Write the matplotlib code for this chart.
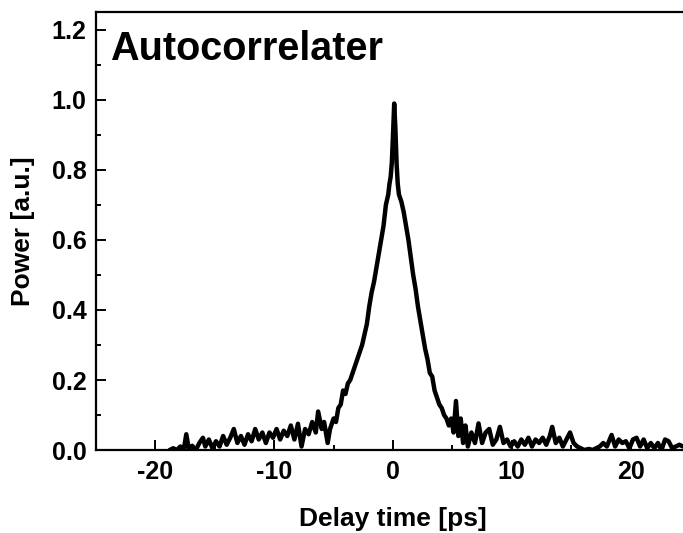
import matplotlib
matplotlib.use("Agg")
import matplotlib.pyplot as plt
from matplotlib.ticker import MultipleLocator

plt.rcParams['font.family'] = ['Liberation Sans', 'DejaVu Sans']
plt.rcParams['font.weight'] = 'bold'
plt.rcParams['axes.unicode_minus'] = False

# delay time [ps] and normalised power
delay = [-18.8, -18.5, -18.2, -17.9, -17.6, -17.4, -17.2, -16.9, -16.6, -16.3,
         -16.0, -15.8, -15.5, -15.2, -14.9, -14.6, -14.3, -14.0, -13.7, -13.4,
         -13.1, -12.8, -12.5, -12.2, -11.9, -11.6, -11.3, -11.0, -10.7, -10.4,
         -10.1, -9.8, -9.5, -9.2, -8.9, -8.6, -8.3, -8.0, -7.7, -7.4,
         -7.1, -6.8, -6.5, -6.3, -6.0, -5.8, -5.5, -5.3, -5.0, -4.8,
         -4.6, -4.4, -4.2, -4.0, -3.8, -3.6, -3.4, -3.2, -3.0, -2.8,
         -2.6, -2.4, -2.2, -2.0, -1.8, -1.6, -1.4, -1.2, -1.0, -0.8,
         -0.6, -0.4, -0.3, -0.2, -0.1, 0.0, 0.1, 0.2, 0.3, 0.4,
         0.5, 0.7, 0.9, 1.1, 1.3, 1.5, 1.7, 1.9, 2.1, 2.3,
         2.5, 2.7, 2.9, 3.1, 3.3, 3.5, 3.7, 3.9, 4.1, 4.3,
         4.5, 4.7, 4.9, 5.1, 5.3, 5.5, 5.7, 5.9, 6.1, 6.3,
         6.6, 6.9, 7.2, 7.5, 7.8, 8.1, 8.4, 8.7, 9.0, 9.3,
         9.6, 9.9, 10.2, 10.5, 10.8, 11.1, 11.4, 11.7, 12.0, 12.3,
         12.6, 12.9, 13.2, 13.4, 13.7, 14.0, 14.3, 14.6, 14.9, 15.2,
         15.5, 15.8, 16.1, 16.5, 16.8, 17.1, 17.4, 17.7, 18.0, 18.4,
         18.7, 19.0, 19.3, 19.6, 19.9, 20.2, 20.5, 20.8, 21.1, 21.4,
         21.7, 22.0, 22.3, 22.6, 22.9, 23.2, 23.5, 23.8, 24.1, 24.4]
power = [0.0, 0.005, 0.0, 0.01, 0.004, 0.045, 0.005, 0.012, 0.0, 0.02,
         0.035, 0.01, 0.03, 0.005, 0.025, 0.01, 0.04, 0.015, 0.035, 0.06,
         0.02, 0.04, 0.015, 0.045, 0.025, 0.06, 0.03, 0.05, 0.02, 0.05,
         0.035, 0.06, 0.03, 0.055, 0.04, 0.07, 0.03, 0.075, 0.01, 0.06,
         0.045, 0.08, 0.05, 0.11, 0.06, 0.08, 0.02, 0.06, 0.09, 0.08,
         0.12, 0.13, 0.17, 0.16, 0.19, 0.20, 0.22, 0.24, 0.26, 0.28,
         0.30, 0.33, 0.36, 0.41, 0.45, 0.48, 0.52, 0.56, 0.60, 0.64,
         0.70, 0.73, 0.76, 0.78, 0.82, 0.90, 0.99, 0.92, 0.82, 0.76,
         0.73, 0.71, 0.68, 0.64, 0.60, 0.55, 0.50, 0.46, 0.41, 0.37,
         0.33, 0.29, 0.26, 0.22, 0.21, 0.17, 0.15, 0.13, 0.12, 0.10,
         0.09, 0.07, 0.09, 0.05, 0.14, 0.04, 0.09, 0.02, 0.07, 0.01,
         0.05, 0.02, 0.076, 0.02, 0.05, 0.06, 0.015, 0.03, 0.066, 0.02,
         0.03, 0.01, 0.025, 0.01, 0.03, 0.015, 0.035, 0.01, 0.03, 0.02,
         0.035, 0.015, 0.04, 0.066, 0.02, 0.035, 0.01, 0.03, 0.05, 0.02,
         0.01, 0.005, 0.0, 0.003, 0.0, 0.005, 0.01, 0.02, 0.01, 0.043,
         0.01, 0.03, 0.02, 0.025, 0.005, 0.03, 0.035, 0.01, 0.03, 0.005,
         0.02, 0.005, 0.02, 0.0, 0.03, 0.025, 0.005, 0.01, 0.015, 0.01]

fig = plt.figure(figsize=(6.83, 5.33), dpi=100)
# right spine sits just past the picture edge, as in the original
ax = fig.add_axes([96 / 683, 83 / 533, 594 / 683, 437.5 / 533])

ax.plot(delay, power, color='black', linewidth=3.2,
        solid_joinstyle='round', solid_capstyle='round')

ax.set_xlim(-25, 25)
ax.set_ylim(0, 1.25)
ax.xaxis.set_major_locator(MultipleLocator(10))
ax.xaxis.set_minor_locator(MultipleLocator(5))
ax.yaxis.set_minor_locator(MultipleLocator(0.1))
ax.set_yticks([0.0, 0.2, 0.4, 0.6, 0.8, 1.0, 1.2])
ax.set_yticklabels(['0.0', '0.2', '0.4', '0.6', '0.8', '1.0', '1.2'])

ax.tick_params(which='both', direction='in', width=1.4, labelsize=18, pad=7)
ax.tick_params(which='major', length=7.5)
ax.tick_params(which='minor', length=3.8)
for s in ax.spines.values():
    s.set_linewidth(1.6)

ax.set_xlabel('Delay time [ps]', fontsize=19, fontweight='bold', labelpad=17)
ax.set_ylabel('Power [a.u.]', fontsize=19, fontweight='bold', labelpad=12)
ax.text(0.0236, 0.892, 'Autocorrelater', transform=ax.transAxes,
        fontsize=28.5, fontweight='bold', va='baseline', ha='left')

fig.savefig('out.png', dpi=100)
